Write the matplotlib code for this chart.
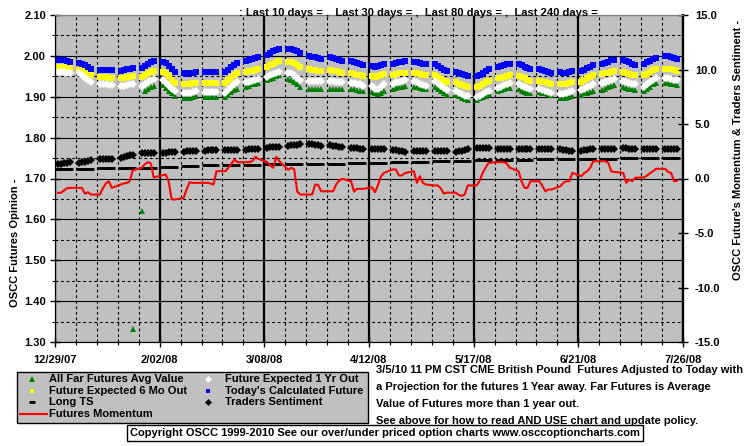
import numpy as np
import pandas as pd
import matplotlib
matplotlib.use("Agg")
import matplotlib.pyplot as plt
import matplotlib.dates as mdates
from matplotlib.lines import Line2D
from matplotlib.patches import Rectangle
from matplotlib.ticker import FixedLocator, FuncFormatter, MultipleLocator, FormatStrFormatter

plt.rcParams['font.family'] = ['Liberation Sans', 'DejaVu Sans']
plt.rcParams['font.weight'] = 'bold'
plt.rcParams['font.size'] = 8

# trading days (the chart puts them one day early, Sun..Thu)
dates = pd.bdate_range('2007-12-31', '2008-07-25') - pd.Timedelta(days=1)

nan = np.nan

# left axis series, one row per week
today_calc = [
    1.989, 1.989, 1.989, 1.988, 1.986,
    1.982, 1.980, 1.977, 1.973, 1.968,
    1.965, 1.965, 1.965, 1.965, 1.965,
    1.963, 1.965, 1.967, 1.969, 1.971,
    1.970, 1.976, 1.981, 1.985, 1.987,
    1.985, 1.982, 1.976, 1.968, 1.960,
    1.957, 1.956, 1.957, 1.958, 1.960,
    1.960, 1.960, 1.960, 1.960, 1.960,
    1.960, 1.966, 1.972, 1.978, 1.982,
    1.987, 1.990, 1.993, 1.995, 1.997,
    2.001, 2.006, 2.011, 2.015, 2.018,
    2.018, 2.017, 2.015, 2.011, 2.006,
    1.999, 1.998, 1.997, 1.995, 1.993,
    1.997, 1.995, 1.992, 1.989, 1.987,
    1.987, 1.985, 1.983, 1.980, 1.978,
    1.976, 1.974, 1.975, 1.978, 1.981,
    1.980, 1.983, 1.985, 1.986, 1.987,
    1.986, 1.985, 1.982, 1.980, 1.979,
    1.979, 1.976, 1.971, 1.966, 1.962,
    1.961, 1.958, 1.955, 1.953, 1.951,
    1.951, 1.954, 1.958, 1.963, 1.967,
    1.972, 1.975, 1.978, 1.980, 1.981,
    1.979, 1.977, 1.974, 1.971, 1.969,
    1.967, 1.966, 1.964, 1.961, 1.959,
    1.960, 1.958, 1.958, 1.960, 1.962,
    1.962, 1.966, 1.970, 1.974, 1.978,
    1.980, 1.983, 1.986, 1.989, 1.991,
    1.989, 1.987, 1.984, 1.981, 1.978,
    1.980, 1.984, 1.988, 1.992, 1.995,
    1.999, 1.999, 1.998, 1.996, 1.993,
]

six_mo = [
    1.974, 1.974, 1.972, 1.972, 1.971,
    1.966, 1.963, 1.960, 1.956, 1.952,
    1.949, 1.948, 1.948, 1.946, 1.945,
    1.945, 1.946, 1.948, 1.949, 1.950,
    1.948, 1.952, 1.957, 1.961, 1.963,
    1.961, 1.957, 1.950, 1.942, 1.934,
    1.930, 1.930, 1.931, 1.933, 1.934,
    1.934, 1.934, 1.934, 1.934, 1.934,
    1.933, 1.940, 1.947, 1.953, 1.958,
    1.960, 1.962, 1.964, 1.966, 1.968,
    1.972, 1.977, 1.981, 1.985, 1.988,
    1.986, 1.985, 1.983, 1.978, 1.973,
    1.967, 1.966, 1.965, 1.964, 1.963,
    1.965, 1.963, 1.962, 1.960, 1.959,
    1.958, 1.956, 1.954, 1.952, 1.950,
    1.951, 1.949, 1.950, 1.952, 1.955,
    1.953, 1.955, 1.957, 1.958, 1.959,
    1.959, 1.958, 1.955, 1.953, 1.952,
    1.952, 1.948, 1.944, 1.939, 1.935,
    1.935, 1.932, 1.929, 1.926, 1.924,
    1.924, 1.927, 1.931, 1.935, 1.938,
    1.945, 1.947, 1.949, 1.951, 1.952,
    1.950, 1.948, 1.945, 1.942, 1.939,
    1.938, 1.937, 1.935, 1.933, 1.931,
    1.932, 1.930, 1.931, 1.933, 1.936,
    1.937, 1.941, 1.945, 1.949, 1.952,
    1.955, 1.957, 1.959, 1.961, 1.962,
    1.960, 1.958, 1.956, 1.954, 1.952,
    1.952, 1.956, 1.961, 1.965, 1.968,
    1.969, 1.968, 1.967, 1.965, 1.962,
]

one_yr = [
    1.960, 1.960, 1.960, 1.959, 1.958,
    1.958, 1.952, 1.946, 1.940, 1.936,
    1.932, 1.931, 1.930, 1.929, 1.928,
    1.926, 1.926, 1.928, 1.930, 1.931,
    1.927, 1.931, 1.936, 1.941, 1.944,
    1.940, 1.934, 1.927, 1.920, 1.914,
    1.909, 1.909, 1.910, 1.912, 1.914,
    1.911, 1.911, 1.911, 1.911, 1.911,
    1.910, 1.917, 1.924, 1.930, 1.935,
    1.935, 1.937, 1.939, 1.941, 1.943,
    1.948, 1.952, 1.955, 1.958, 1.961,
    1.959, 1.957, 1.953, 1.947, 1.942,
    1.938, 1.938, 1.938, 1.938, 1.938,
    1.938, 1.938, 1.937, 1.937, 1.936,
    1.934, 1.933, 1.932, 1.930, 1.927,
    1.926, 1.920, 1.920, 1.925, 1.930,
    1.932, 1.935, 1.937, 1.939, 1.940,
    1.939, 1.936, 1.932, 1.929, 1.927,
    1.938, 1.933, 1.927, 1.921, 1.916,
    1.914, 1.910, 1.906, 1.903, 1.901,
    1.900, 1.903, 1.907, 1.911, 1.914,
    1.921, 1.925, 1.929, 1.932, 1.934,
    1.930, 1.927, 1.924, 1.921, 1.918,
    1.918, 1.916, 1.914, 1.912, 1.910,
    1.907, 1.906, 1.908, 1.911, 1.914,
    1.917, 1.920, 1.924, 1.927, 1.930,
    1.933, 1.936, 1.939, 1.942, 1.944,
    1.939, 1.937, 1.934, 1.932, 1.930,
    1.925, 1.931, 1.936, 1.941, 1.946,
    1.946, 1.945, 1.944, 1.942, 1.940,
]

far_avg = [
    nan, nan, nan, nan, nan,
    nan, nan, nan, nan, nan,
    nan, nan, nan, nan, nan,
    nan, nan, nan, nan, 1.332,
    1.621, 1.915, 1.919, 1.923, 1.926,
    1.928, 1.922, 1.915, 1.908, 1.902,
    1.898, 1.897, 1.898, 1.900, 1.902,
    1.900, 1.900, 1.900, 1.900, 1.900,
    1.900, 1.905, 1.911, 1.916, 1.920,
    1.925, 1.927, 1.930, 1.932, 1.934,
    1.941, 1.944, 1.947, 1.950, 1.953,
    1.944, 1.942, 1.937, 1.931, 1.925,
    1.919, 1.919, 1.919, 1.919, 1.919,
    1.919, 1.919, 1.919, 1.919, 1.918,
    1.918, 1.918, 1.917, 1.915, 1.913,
    1.912, 1.908, 1.907, 1.910, 1.915,
    1.920, 1.922, 1.924, 1.925, 1.926,
    1.925, 1.923, 1.921, 1.920, 1.919,
    1.924, 1.919, 1.914, 1.909, 1.904,
    1.905, 1.901, 1.897, 1.894, 1.892,
    1.893, 1.896, 1.900, 1.903, 1.906,
    1.913, 1.916, 1.919, 1.921, 1.922,
    1.918, 1.915, 1.912, 1.910, 1.908,
    1.912, 1.910, 1.908, 1.906, 1.904,
    1.897, 1.896, 1.898, 1.900, 1.903,
    1.905, 1.908, 1.910, 1.912, 1.914,
    1.917, 1.920, 1.923, 1.926, 1.928,
    1.924, 1.922, 1.920, 1.918, 1.917,
    1.915, 1.920, 1.925, 1.930, 1.934,
    1.934, 1.933, 1.932, 1.930, 1.928,
]

# right axis series
traders = [
    1.30, 1.35, 1.40, 1.45, 1.50,
    1.45, 1.50, 1.55, 1.62, 1.68,
    1.76, 1.78, 1.80, 1.80, 1.80,
    1.85, 1.95, 2.05, 2.15, 2.20,
    2.30, 2.30, 2.32, 2.30, 2.30,
    2.35, 2.38, 2.40, 2.42, 2.45,
    2.46, 2.48, 2.50, 2.50, 2.50,
    2.55, 2.57, 2.58, 2.58, 2.58,
    2.57, 2.58, 2.60, 2.62, 2.62,
    2.65, 2.68, 2.70, 2.72, 2.74,
    2.83, 2.85, 2.86, 2.88, 2.90,
    2.98, 3.05, 3.08, 3.10, 3.12,
    3.15, 3.13, 3.10, 3.05, 3.00,
    3.05, 3.02, 2.98, 2.92, 2.86,
    2.78, 2.77, 2.76, 2.75, 2.74,
    2.73, 2.74, 2.74, 2.74, 2.73,
    2.62, 2.58, 2.52, 2.48, 2.46,
    2.50, 2.50, 2.50, 2.50, 2.50,
    2.50, 2.50, 2.50, 2.50, 2.50,
    2.45, 2.50, 2.56, 2.62, 2.67,
    2.76, 2.76, 2.76, 2.76, 2.76,
    2.73, 2.73, 2.73, 2.73, 2.73,
    2.73, 2.73, 2.73, 2.73, 2.73,
    2.73, 2.72, 2.70, 2.70, 2.70,
    2.70, 2.65, 2.60, 2.55, 2.50,
    2.55, 2.60, 2.65, 2.70, 2.72,
    2.70, 2.72, 2.72, 2.73, 2.73,
    2.76, 2.76, 2.75, 2.74, 2.73,
    2.72, 2.72, 2.73, 2.73, 2.73,
    2.70, 2.70, 2.70, 2.70, 2.70,
]

long_ts = [
    0.83, 0.83, 0.83, 0.83, 0.83,
    0.83, 0.83, 0.83, 0.83, 0.83,
    0.95, 0.95, 0.95, 0.95, 0.95,
    0.95, 0.95, 0.95, 0.95, 0.95,
    0.97, 0.97, 0.97, 0.97, 0.97,
    1.08, 1.08, 1.08, 1.08, 1.08,
    1.13, 1.13, 1.13, 1.13, 1.13,
    1.20, 1.20, 1.20, 1.20, 1.20,
    1.20, 1.20, 1.20, 1.20, 1.20,
    1.22, 1.22, 1.22, 1.22, 1.22,
    1.29, 1.29, 1.29, 1.29, 1.29,
    1.29, 1.29, 1.29, 1.29, 1.29,
    1.35, 1.35, 1.35, 1.35, 1.35,
    1.35, 1.35, 1.35, 1.35, 1.35,
    1.41, 1.41, 1.41, 1.41, 1.41,
    1.44, 1.44, 1.44, 1.44, 1.44,
    1.50, 1.50, 1.50, 1.50, 1.50,
    1.53, 1.53, 1.53, 1.53, 1.53,
    1.56, 1.56, 1.56, 1.56, 1.56,
    1.62, 1.62, 1.62, 1.62, 1.62,
    1.66, 1.66, 1.66, 1.66, 1.66,
    1.72, 1.72, 1.72, 1.72, 1.72,
    1.72, 1.72, 1.72, 1.72, 1.72,
    1.75, 1.75, 1.75, 1.75, 1.75,
    1.78, 1.78, 1.78, 1.78, 1.78,
    1.78, 1.78, 1.78, 1.78, 1.78,
    1.81, 1.81, 1.81, 1.81, 1.81,
    1.84, 1.84, 1.84, 1.84, 1.84,
    1.87, 1.87, 1.87, 1.87, 1.87,
    1.90, 1.90, 1.90, 1.90, 1.90,
]

momentum = [
    -1.32, -1.30, -1.10, -0.90, -0.86,
    -0.86, -0.86, -1.38, -1.26, -1.47,
    -1.47, -0.90, -0.45, -0.25, -0.86,
    -0.55, -0.45, -0.40, -0.25, 0.75,
    0.98, 1.30, 1.50, 1.40, 0.10,
    0.30, 0.37, -0.25, -1.90, -1.93,
    -1.78, -1.00, -0.34, -0.40, -0.40,
    -0.40, -0.40, -0.45, -0.55, 0.67,
    0.67, 1.00, 1.35, 1.75, 1.50,
    1.50, 1.50, 1.60, 1.99, 1.80,
    1.50, 1.20, 0.98, 1.99, 1.59,
    0.80, 0.98, 0.83, -1.20, -1.47,
    -1.47, -1.47, -0.55, -0.60, -1.17,
    -1.17, -1.17, -0.55, -0.20, -0.03,
    -0.25, -1.20, -0.95, -0.95, -0.95,
    -0.80, -1.26, -0.60, 0.20, 0.52,
    0.83, 0.83, 0.28, 0.28, 0.50,
    0.67, -0.40, 0.21, -0.40, -0.55,
    -0.64, -0.64, -0.90, -1.38, -1.30,
    -1.30, -1.50, -1.60, -1.47, -0.64,
    -0.64, -0.20, 0.52, 1.00, 1.44,
    1.50, 1.50, 1.50, 1.40, 1.00,
    0.67, -0.25, -0.86, -0.86, -0.25,
    -0.25, -0.70, -1.17, -1.01, -1.01,
    -0.71, -0.40, -0.25, -0.25, 0.52,
    0.21, 0.50, 0.67, 1.00, 1.59,
    1.59, 1.59, 1.44, 0.67, 0.60,
    0.52, -0.40, -0.10, -0.25, 0.06,
    0.10, 0.28, 0.50, 0.67, 0.89,
    0.89, 0.60, 0.52, -0.25, -0.20,
]

notes = [
    "3/5/10 11 PM CST CME British Pound  Futures Adjusted to Today with",
    "a Projection for the futures 1 Year away. Far Futures is Average",
    "Value of Futures more than 1 year out.",
    "See above for how to read AND USE chart and update policy.",
]

W, H = 755, 446


def fx(x):
    return x / W


def fy(y):
    return 1 - y / H


fig = plt.figure(figsize=(W / 100, H / 100), dpi=100)
ax = fig.add_axes([fx(55), fy(342), (683 - 55) / W, (342 - 15) / H])
ax.set_facecolor('#c0c0c0')

start, end = pd.Timestamp('2007-12-29'), pd.Timestamp('2008-07-26')
ax.set_xlim(start, end)
ax.set_ylim(1.30, 2.10)
ax.xaxis.set_major_locator(FixedLocator(mdates.date2num(pd.date_range(start, end, freq='35D'))))
ax.xaxis.set_minor_locator(FixedLocator(mdates.date2num(pd.date_range(start, end, freq='7D'))))


def date_lbl(v, pos):
    d = mdates.num2date(v)
    return f"{d.month}/{d.day:02d}/{d:%y}"


ax.xaxis.set_major_formatter(FuncFormatter(date_lbl))
ax.yaxis.set_major_locator(MultipleLocator(0.1))
ax.yaxis.set_minor_locator(MultipleLocator(0.05))
ax.yaxis.set_major_formatter(FormatStrFormatter('%.2f'))

ax.set_axisbelow(True)
ax.grid(True, which='major', axis='x', color='black', lw=1.6)
ax.grid(True, which='minor', axis='x', color='black', lw=0.8, ls=(0, (2.5, 2.5)))
ax.grid(True, which='major', axis='y', color='black', lw=0.8)
ax.grid(True, which='minor', axis='y', color='black', lw=0.8, ls=(0, (2.5, 2.5)))

ax.tick_params(axis='x', which='major', direction='inout', length=7, width=1, pad=6)
ax.tick_params(axis='x', which='minor', direction='out', length=2.5, width=0.8)
ax.tick_params(axis='y', which='major', direction='inout', length=7, width=1, pad=3)
ax.tick_params(axis='y', which='minor', direction='out', length=2.5, width=0.8)

ax.plot(dates, far_avg, ls='none', marker='^', ms=4.5, color='#008000', mew=0)
ax.plot(dates, six_mo, ls='none', marker='s', ms=4.2, color='#ffff00', mew=0)
ax.plot(dates, one_yr, ls='none', marker='D', ms=4.0, color='white', mew=0)
ax.plot(dates, today_calc, ls='none', marker='s', ms=4.2, color='#0000ff', mew=0)

ax2 = ax.twinx()
ax2.set_ylim(-15, 15)
ax2.yaxis.set_major_locator(MultipleLocator(5))
ax2.yaxis.set_major_formatter(FormatStrFormatter('%.1f'))
ax2.tick_params(axis='y', direction='inout', length=7, width=1, pad=5)
ax2.plot(dates, long_ts, ls='none', marker='_', ms=5, mew=2, color='black')
ax2.plot(dates, traders, ls='none', marker='D', ms=4.0, color='black', mew=0)
ax2.plot(dates, momentum, color='#ff0000', lw=1.5)

for a in (ax, ax2):
    a.spines['top'].set_color('#808080')
ax2.spines['right'].set_linewidth(1.6)

fig.text(fx(15), fy(243), "OSCC Futures Opinion -", rotation=90, ha='center', va='center')
fig.text(fx(738), fy(20), "OSCC Future's Momentum & Traders Sentiment -", rotation=90,
         ha='center', va='top')
fig.text(fx(239), fy(13), ": Last 10 days = ,  Last 30 days = ,  Last 80 days = ,  Last 240 days =",
         ha='left', va='center')

# legend box
fig.patches.append(Rectangle((fx(17), fy(423)), (368 - 17) / W, (423 - 372) / H,
                             transform=fig.transFigure, facecolor='#c0c0c0',
                             edgecolor='black', lw=1))
entries = [
    (32, 379, dict(marker='^', ms=4, color='#008000', mew=0), "All Far Futures Avg Value"),
    (32, 391, dict(marker='s', ms=3.5, color='#ffff00', mew=0), "Future Expected 6 Mo Out"),
    (32, 402, dict(marker='_', ms=5, mew=2, color='black'), "Long TS"),
    (208, 379, dict(marker='D', ms=3.5, color='white', mew=0), "Future Expected 1 Yr Out"),
    (208, 391, dict(marker='s', ms=3.5, color='#0000ff', mew=0), "Today's Calculated Future"),
    (208, 402, dict(marker='D', ms=3.5, color='black', mew=0), "Traders Sentiment"),
]
for mx, my, style, label in entries:
    fig.add_artist(Line2D([fx(mx)], [fy(my)], transform=fig.transFigure, ls='none', **style))
    fig.text(fx(mx + 17), fy(my), label, ha='left', va='center')
fig.add_artist(Line2D([fx(20), fx(47)], [fy(414), fy(414)], transform=fig.transFigure,
                      color='#ff0000', lw=1.5))
fig.text(fx(49), fy(414), "Futures Momentum", ha='left', va='center')

for i, line in enumerate(notes):
    fig.text(fx(376), fy(370 + 17 * i), line, ha='left', va='center')

fig.text(fx(385), fy(433),
         "Copyright OSCC 1999-2010 See our over/under priced option charts www.osccoptioncharts.com",
         ha='center', va='center',
         bbox=dict(boxstyle='square,pad=0.25', facecolor='white', edgecolor='black', lw=1))

fig.savefig('out.png', dpi=100, facecolor='white')
